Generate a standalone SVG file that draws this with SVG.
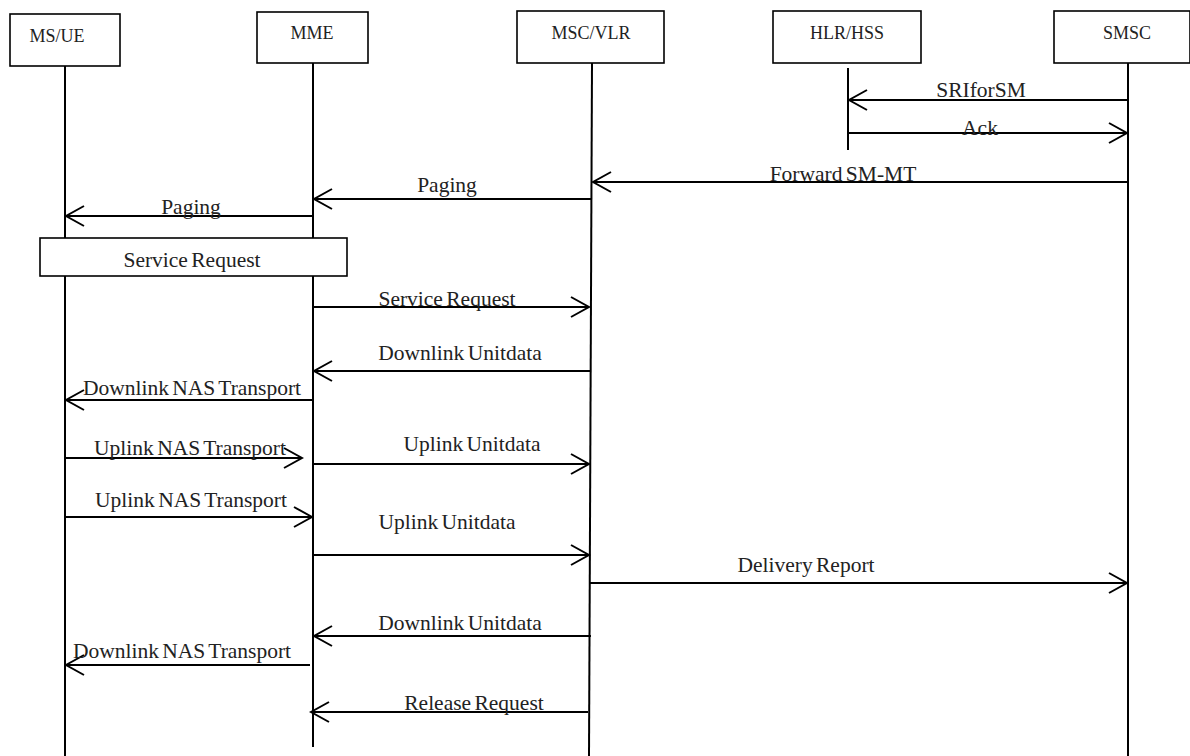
<svg xmlns="http://www.w3.org/2000/svg" width="1190" height="756" viewBox="0 0 1190 756">
<style>
.box{fill:#fff;stroke:#000;stroke-width:1.6}
.life{stroke:#000;stroke-width:2;fill:none}
.msg{stroke:#000;stroke-width:2;fill:none;marker-end:url(#arr)}
.nt{font-family:"Liberation Serif","Times New Roman",serif;font-size:18px;fill:#222;text-anchor:middle}
.lt{font-family:"Liberation Serif","Times New Roman",serif;font-size:21.5px;fill:#222;text-anchor:middle;word-spacing:-2px}
</style>
<defs>
<marker id="arr" markerUnits="userSpaceOnUse" markerWidth="24" markerHeight="24" viewBox="-22 -12 24 24" refX="0" refY="0" orient="auto">
<path d="M-18,-10 L0,0 L-18,10" fill="none" stroke="#000" stroke-width="2"/>
</marker>
</defs>
<rect width="1190" height="756" fill="#fff"/>
<g id="ms-ue">
<rect class="box" x="10" y="14" width="110" height="52"/>
<text class="nt" x="57" y="42">MS/UE</text>
<line class="life" x1="65" y1="66" x2="65" y2="756"/>
</g>
<g id="mme">
<rect class="box" x="257" y="12" width="111" height="51"/>
<text class="nt" x="312" y="39">MME</text>
<line class="life" x1="313" y1="63" x2="313" y2="747"/>
</g>
<g id="msc-vlr">
<rect class="box" x="517" y="11" width="147" height="52"/>
<text class="nt" x="591" y="39">MSC/VLR</text>
<line class="life" x1="592" y1="63" x2="589" y2="756"/>
</g>
<g id="hlr-hss">
<rect class="box" x="773" y="11" width="148" height="52"/>
<text class="nt" x="847" y="39">HLR/HSS</text>
<line class="life" x1="848" y1="68" x2="848" y2="150"/>
</g>
<g id="smsc">
<rect class="box" x="1054" y="11" width="136" height="52"/>
<text class="nt" x="1127" y="39">SMSC</text>
<line class="life" x1="1128" y1="63" x2="1128" y2="756"/>
</g>
<g id="service-request-box">
<rect class="box" x="40" y="238" width="307" height="38"/>
<text class="lt" x="192" y="267">Service Request</text>
</g>
<g id="connectors">
<line class="msg" x1="1128" y1="100" x2="849" y2="100"/>
<line class="msg" x1="848" y1="133" x2="1127" y2="133"/>
<line class="msg" x1="1128" y1="182" x2="593" y2="182"/>
<line class="msg" x1="591" y1="199" x2="314" y2="199"/>
<line class="msg" x1="313" y1="216" x2="66" y2="216"/>
<line class="msg" x1="313" y1="307" x2="589" y2="307"/>
<line class="msg" x1="590" y1="371" x2="314" y2="371"/>
<line class="msg" x1="313" y1="400" x2="66" y2="400"/>
<line class="msg" x1="65" y1="458" x2="302" y2="458"/>
<line class="msg" x1="313" y1="464" x2="589" y2="464"/>
<line class="msg" x1="65" y1="517" x2="312" y2="517"/>
<line class="msg" x1="313" y1="555" x2="589" y2="555"/>
<line class="msg" x1="589" y1="583" x2="1127" y2="583"/>
<line class="msg" x1="591" y1="636" x2="314" y2="636"/>
<line class="msg" x1="310" y1="665" x2="66" y2="665"/>
<line class="msg" x1="588" y1="712" x2="311" y2="712"/>
</g>
<g id="labels">
<text class="lt" x="981" y="97">SRIforSM</text>
<text class="lt" x="980" y="135">Ack</text>
<text class="lt" x="843" y="181">Forward SM-MT</text>
<text class="lt" x="447" y="192">Paging</text>
<text class="lt" x="191" y="214">Paging</text>
<text class="lt" x="447" y="306">Service Request</text>
<text class="lt" x="460" y="360">Downlink Unitdata</text>
<text class="lt" x="192" y="395">Downlink NAS Transport</text>
<text class="lt" x="190" y="455">Uplink NAS Transport</text>
<text class="lt" x="472" y="451">Uplink Unitdata</text>
<text class="lt" x="191" y="507">Uplink NAS Transport</text>
<text class="lt" x="447" y="529">Uplink Unitdata</text>
<text class="lt" x="806" y="572">Delivery Report</text>
<text class="lt" x="460" y="630">Downlink Unitdata</text>
<text class="lt" x="182" y="658">Downlink NAS Transport</text>
<text class="lt" x="474" y="710">Release Request</text>
</g>
</svg>
